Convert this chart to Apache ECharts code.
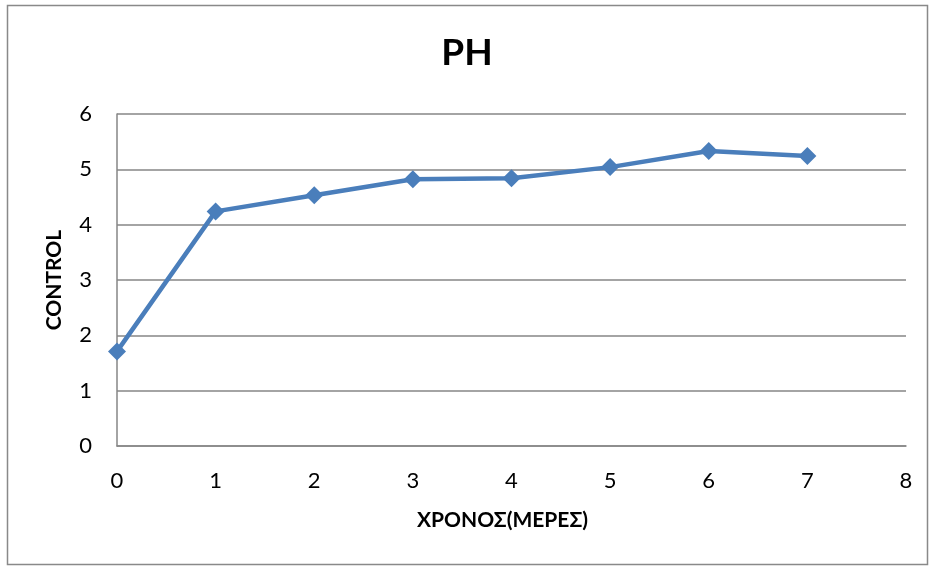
<!DOCTYPE html>
<html>
<head>
<meta charset="utf-8">
<script src="https://cdn.jsdelivr.net/npm/echarts@6/dist/echarts.min.js"></script>
<style>
html,body{margin:0;padding:0;background:#fff;}
#c{width:934px;height:566px;}
</style>
</head>
<body>
<div id="c"></div>
<script>
const days = [0, 1, 2, 3, 4, 5, 6, 7];
const phValues = [1.71, 4.24, 4.53, 4.82, 4.84, 5.04, 5.33, 5.24];
const chartTitle = 'PH';
const xName = 'ΧΡΟΝΟΣ(ΜΕΡΕΣ)';
const yName = 'CONTROL';

const chart = echarts.init(document.getElementById('c'));
const font = 'Lato, "Open Sans", sans-serif';
chart.setOption({
  animation: false,
  backgroundColor: '#fff',
  graphic: [{
    type: 'rect',
    shape: {x: 7.5, y: 5.5, width: 920, height: 559},
    style: {fill: 'none', stroke: '#898989', lineWidth: 1.5},
    silent: true
  }],
  title: {
    text: chartTitle,
    left: 'center',
    top: 30,
    textStyle: {fontFamily: font, fontSize: 37, fontWeight: 'bold', color: '#000'}
  },
  grid: {left: 117, right: 28, top: 114, bottom: 120, containLabel: false},
  xAxis: {
    type: 'value',
    min: 0, max: 8, interval: 1,
    name: xName,
    nameLocation: 'middle',
    nameGap: 64,
    nameTextStyle: {fontFamily: font, fontSize: 21, fontWeight: 'bold', color: '#000', padding: [0, 18, 0, 0]},
    axisLine: {show: true, lineStyle: {color: '#868686', width: 1.5}},
    axisTick: {show: false},
    splitLine: {show: false},
    axisLabel: {fontFamily: font, fontSize: 22, color: '#000', margin: 24}
  },
  yAxis: {
    type: 'value',
    min: 0, max: 6, interval: 1,
    name: yName,
    nameLocation: 'middle',
    nameGap: 52,
    nameRotate: 90,
    nameTextStyle: {fontFamily: font, fontSize: 21, fontWeight: 'bold', color: '#000'},
    axisLine: {show: true, lineStyle: {color: '#868686', width: 1.5}},
    axisTick: {show: false},
    splitLine: {show: true, lineStyle: {color: '#868686', width: 1.5}},
    axisLabel: {fontFamily: font, fontSize: 22, color: '#000', margin: 25}
  },
  series: [{
    type: 'line',
    data: days.map((d, i) => [d, phValues[i]]),
    symbol: 'diamond',
    symbolSize: 18,
    lineStyle: {color: '#4A7EBB', width: 4.5},
    itemStyle: {color: '#4A7EBB'}
  }]
});
</script>
</body>
</html>
